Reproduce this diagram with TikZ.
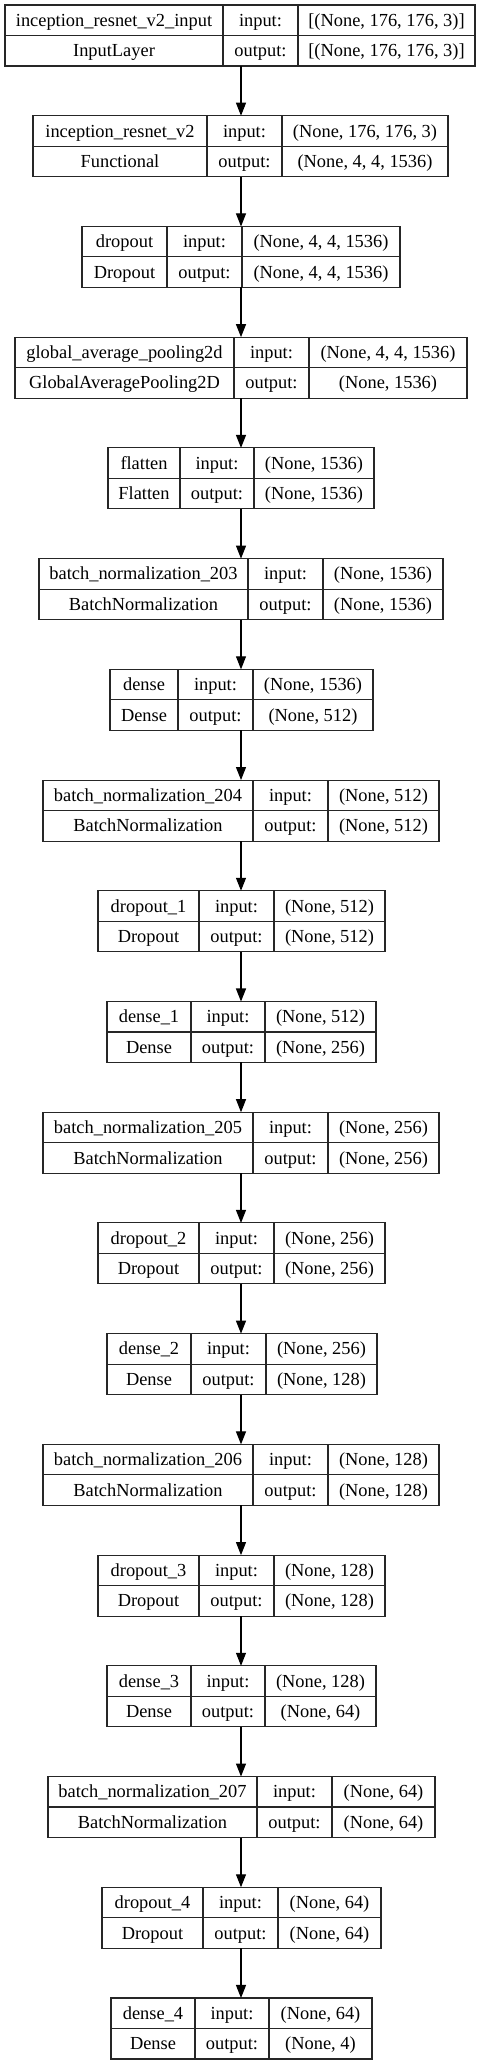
\documentclass[tikz,border=0pt]{standalone}
\usepackage{fontspec}
\setmainfont{Liberation Serif}
\usetikzlibrary{arrows.meta}
\tikzset{
  kerasbox/.style={draw=black!85, line width=1.1pt, inner sep=0pt, outer sep=0pt},
  kline/.style={draw=black!85, line width=1.1pt},
  ktext/.style={anchor=base, inner sep=0pt, font=\fontsize{18.4}{22}\selectfont},
  karrow/.style={draw=black, line width=1.1pt, -{Triangle[length=13pt,width=10pt]}}
}
\newcommand\kbox[9]{%
  \pgfmathsetmacro\kt{5+(#1-1)*110.72}%
  \pgfmathsetmacro\kcx{(#2+#5)/2}%
  \pgfmathsetmacro\kw{#5-#2}%
  \pgfmathsetmacro\kxa{(#2+#3)/2}%
  \pgfmathsetmacro\kxb{(#3+#4)/2}%
  \pgfmathsetmacro\kxc{(#4+#5)/2}%
  \pgfmathsetmacro\kya{\kt+21.3}%
  \pgfmathsetmacro\kyb{\kt+51.8}%
  \node[kerasbox, minimum width=\kw, minimum height=61] (b#1) at (\kcx,\kt+30.5) {};
  \draw[kline] (#2,\kt+30.5) -- (#5,\kt+30.5);
  \draw[kline] (#3,\kt) -- (#3,\kt+61);
  \draw[kline] (#4,\kt) -- (#4,\kt+61);
  \node[ktext] (b#1name) at (\kxa,\kya) {#6};
  \node[ktext] (b#1class) at (\kxa,\kyb) {#7};
  \node[ktext] (b#1inl) at (\kxb,\kya) {input:};
  \node[ktext] (b#1outl) at (\kxb,\kyb) {output:};
  \node[ktext] (b#1in) at (\kxc,\kya) {#8};
  \node[ktext] (b#1out) at (\kxc,\kyb) {#9};
}
\begin{document}
\begin{tikzpicture}[x=1pt,y=-1pt]
\fill[white] (0,0) rectangle (483,2065);
\useasboundingbox (0,0) rectangle (483,2065);
\coordinate (spine) at (241,0);
\kbox{1}{5}{223}{298}{475}{inception\_resnet\_v2\_input}{InputLayer}{[(None, 176, 176, 3)]}{[(None, 176, 176, 3)]}
\kbox{2}{33}{207}{282}{448}{inception\_resnet\_v2}{Functional}{(None, 176, 176, 3)}{(None, 4, 4, 1536)}
\kbox{3}{82}{167}{242}{400}{dropout}{Dropout}{(None, 4, 4, 1536)}{(None, 4, 4, 1536)}
\kbox{4}{15}{234}{309}{467}{global\_average\_pooling2d}{GlobalAveragePooling2D}{(None, 4, 4, 1536)}{(None, 1536)}
\kbox{5}{108}{180}{254}{374}{flatten}{Flatten}{(None, 1536)}{(None, 1536)}
\kbox{6}{39}{248}{323}{443}{batch\_normalization\_203}{BatchNormalization}{(None, 1536)}{(None, 1536)}
\kbox{7}{110}{178}{253}{373}{dense}{Dense}{(None, 1536)}{(None, 512)}
\kbox{8}{43}{253}{328}{439}{batch\_normalization\_204}{BatchNormalization}{(None, 512)}{(None, 512)}
\kbox{9}{98}{199}{274}{385}{dropout\_1}{Dropout}{(None, 512)}{(None, 512)}
\kbox{10}{107}{191}{265}{376}{dense\_1}{Dense}{(None, 512)}{(None, 256)}
\kbox{11}{43}{253}{328}{439}{batch\_normalization\_205}{BatchNormalization}{(None, 256)}{(None, 256)}
\kbox{12}{98}{199}{274}{385}{dropout\_2}{Dropout}{(None, 256)}{(None, 256)}
\kbox{13}{107}{191}{266}{377}{dense\_2}{Dense}{(None, 256)}{(None, 128)}
\kbox{14}{43}{253}{328}{439}{batch\_normalization\_206}{BatchNormalization}{(None, 128)}{(None, 128)}
\kbox{15}{98}{199}{274}{385}{dropout\_3}{Dropout}{(None, 128)}{(None, 128)}
\kbox{16}{107}{191}{265}{376}{dense\_3}{Dense}{(None, 128)}{(None, 64)}
\kbox{17}{48}{257}{332}{435}{batch\_normalization\_207}{BatchNormalization}{(None, 64)}{(None, 64)}
\kbox{18}{102}{203}{278}{381}{dropout\_4}{Dropout}{(None, 64)}{(None, 64)}
\kbox{19}{111}{195}{269}{372}{dense\_4}{Dense}{(None, 64)}{(None, 4)}
\foreach \i [evaluate=\i as \j using int(\i+1)] in {1,...,18} {
  \draw[karrow] (b\i.south -| spine) -- (b\j.north -| spine);
}
\end{tikzpicture}
\end{document}
